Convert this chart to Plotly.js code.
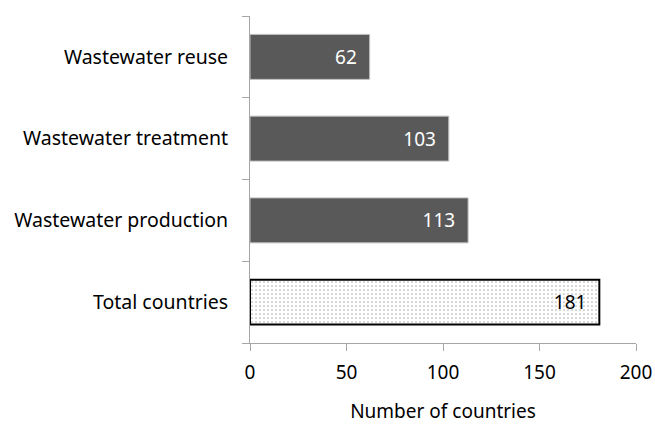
<!DOCTYPE html>
<html>
<head>
<meta charset="utf-8">
<script src="https://cdn.plot.ly/plotly-3.0.1.min.js"></script>
<style>html,body{margin:0;padding:0;background:#fff;}#chart{width:655px;height:424px;}</style>
</head>
<body>
<div id="chart"></div>
<script>
var categories = ["Total countries", "Wastewater production", "Wastewater treatment", "Wastewater reuse"];
var counts = [181, 113, 103, 62];
var xTicks = [0, 50, 100, 150, 200];

var FONT = "Noto Sans, Open Sans, sans-serif";
var PAD = "\u00a0\u00a0";

var dark = {
  type: "bar", orientation: "h",
  y: categories.slice(1), x: counts.slice(1),
  text: counts.slice(1).map(function (v) { return v + PAD; }),
  textposition: "inside", insidetextanchor: "end",
  textfont: {family: FONT, size: 19, color: "#ffffff"},
  marker: {color: "#595959", line: {color: "#c0c0c0", width: 1}},
  hoverinfo: "none"
};
var total = {
  type: "bar", orientation: "h",
  y: categories.slice(0, 1), x: counts.slice(0, 1),
  text: counts.slice(0, 1).map(function (v) { return v + PAD; }),
  textposition: "inside", insidetextanchor: "end",
  textfont: {family: FONT, size: 19, color: "#000000"},
  marker: {color: "#ffffff", line: {color: "#000000", width: 2},
    pattern: {shape: ".", fgcolor: "#b4b4b4", bgcolor: "#ffffff", size: 4, solidity: 0.15}},
  hoverinfo: "none"
};

var layout = {
  width: 655, height: 424,
  margin: {l: 250, r: 19, t: 16, b: 81},
  paper_bgcolor: "#ffffff", plot_bgcolor: "#ffffff",
  showlegend: false,
  barmode: "overlay",
  bargap: 0.45,
  font: {family: FONT, size: 19, color: "#000000"},
  xaxis: {
    range: [0, 200], tickvals: xTicks, ticktext: xTicks.map(String),
    showgrid: false, zeroline: false,
    showline: true, linecolor: "#a6a6a6", linewidth: 1,
    ticks: "outside", ticklen: 7, tickcolor: "#a6a6a6",
    tickfont: {family: FONT, size: 19, color: "#000000"},
    ticklabelstandoff: 5,
    title: {text: "Number of countries", font: {family: FONT, size: 19, color: "#000000"}, standoff: 22},
    fixedrange: true
  },
  yaxis: {
    type: "category", categoryorder: "array", categoryarray: categories,
    showgrid: false, zeroline: false,
    showline: true, linecolor: "#a6a6a6", linewidth: 1,
    ticks: "outside", ticklen: 7, tickcolor: "#a6a6a6", tickson: "boundaries",
    tickfont: {family: FONT, size: 19.5, color: "#000000"},
    ticklabelstandoff: 17,
    fixedrange: true
  }
};

Plotly.newPlot("chart", [dark, total], layout, {displayModeBar: false, staticPlot: true});
</script>
</body>
</html>
